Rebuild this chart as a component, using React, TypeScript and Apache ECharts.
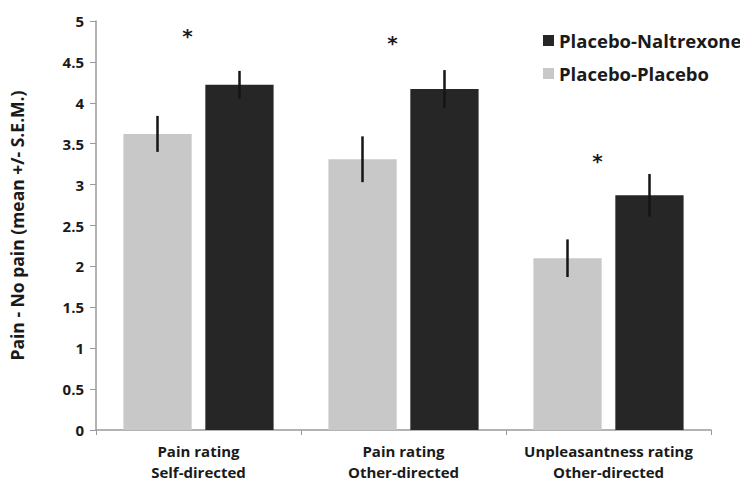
import React, { useEffect, useRef } from "react";
import * as echarts from "echarts";

const categories = [
  "Pain rating\nSelf-directed",
  "Pain rating\nOther-directed",
  "Unpleasantness rating\nOther-directed",
];
const placeboPlacebo = [3.62, 3.31, 2.1];
const placeboPlaceboSem = [0.22, 0.28, 0.23];
const placeboNaltrexone = [4.22, 4.17, 2.87];
const placeboNaltrexoneSem = [0.17, 0.23, 0.26];
const significanceY = [4.83, 4.74, 3.3];
const yTicks = [0, 0.5, 1, 1.5, 2, 2.5, 3, 3.5, 4, 4.5, 5];

const FONT = "Open Sans";

export default function App() {
  const ref = useRef<HTMLDivElement>(null);
  useEffect(() => {
    if (!ref.current) return;
    const chart = echarts.init(ref.current, null, { renderer: "svg" });
    const errRender = (side: number) => (params: any, api: any) => {
      const x = api.value(0);
      const v = api.value(1);
      const e = api.value(2);
      const cw = api.size([1, 0])[0];
      const off = side * 0.2 * cw;
      const top = api.coord([x, v + e]);
      const bot = api.coord([x, v - e]);
      return {
        type: "line",
        shape: { x1: top[0] + off, y1: top[1], x2: top[0] + off, y2: bot[1] },
        style: { stroke: "#151515", lineWidth: 2.5 },
      };
    };
    const starRender = (params: any, api: any) => {
      const p = api.coord([api.value(0), api.value(1)]);
      return {
        type: "text",
        x: p[0] - 11,
        y: p[1] + 1,
        style: {
          text: "*",
          fill: "#1a1a1a",
          font: 'bold 20px "DejaVu Sans"',
          align: "center",
          verticalAlign: "middle",
        },
      };
    };
    chart.setOption({
      animation: false,
      textStyle: { fontFamily: FONT },
      grid: { left: 94, right: 29, top: 21, bottom: 50 },
      legend: {
        data: ["Placebo-Naltrexone", "Placebo-Placebo"],
        orient: "vertical",
        left: 538,
        top: 26,
        itemWidth: 11,
        itemHeight: 11,
        itemGap: 14,
        icon: "rect",
        textStyle: { fontFamily: FONT, fontWeight: "bold", fontSize: 18.5, color: "#1a1a1a" },
      },
      xAxis: {
        type: "category",
        data: categories,
        axisLine: { lineStyle: { color: "#9a9a9a", width: 1.5 } },
        axisTick: { show: true, length: 5, lineStyle: { color: "#9a9a9a" } },
        axisLabel: {
          interval: 0,
          fontFamily: FONT,
          fontWeight: "bold",
          fontSize: 15,
          color: "#1a1a1a",
          lineHeight: 21,
          margin: 10,
        },
      },
      yAxis: {
        type: "value",
        min: 0,
        max: 5,
        interval: 0.5,
        name: "Pain - No pain (mean +/- S.E.M.)",
        nameLocation: "middle",
        nameGap: 70,
        nameTextStyle: { fontFamily: FONT, fontWeight: "bold", fontSize: 17.5, color: "#1a1a1a" },
        axisLine: { show: true, lineStyle: { color: "#9a9a9a", width: 1.5 } },
        axisTick: { show: true, length: 6, lineStyle: { color: "#9a9a9a" } },
        splitLine: { show: false },
        axisLabel: {
          fontFamily: FONT,
          fontWeight: "bold",
          fontSize: 15,
          color: "#1a1a1a",
          margin: 12,
          formatter: (v: number) => (yTicks.includes(v) ? String(v) : ""),
        },
      },
      series: [
        {
          name: "Placebo-Placebo",
          type: "bar",
          data: placeboPlacebo,
          barWidth: "33.3%",
          barGap: "20%",
          itemStyle: { color: "#c8c8c8" },
        },
        {
          name: "Placebo-Naltrexone",
          type: "bar",
          data: placeboNaltrexone,
          barWidth: "33.3%",
          barGap: "20%",
          itemStyle: { color: "#262626" },
        },
        {
          type: "custom",
          renderItem: errRender(-1),
          data: placeboPlacebo.map((v, i) => [i, v, placeboPlaceboSem[i]]),
          encode: { x: 0, y: 1 },
          z: 5,
        },
        {
          type: "custom",
          renderItem: errRender(1),
          data: placeboNaltrexone.map((v, i) => [i, v, placeboNaltrexoneSem[i]]),
          encode: { x: 0, y: 1 },
          z: 5,
        },
        {
          type: "custom",
          renderItem: starRender,
          data: significanceY.map((v, i) => [i, v]),
          encode: { x: 0, y: 1 },
          z: 6,
        },
      ],
    });
    return () => chart.dispose();
  }, []);
  return (
    <div
      ref={ref}
      style={{ position: "fixed", left: 0, top: 0, width: 740, height: 482, background: "#fff" }}
    />
  );
}
